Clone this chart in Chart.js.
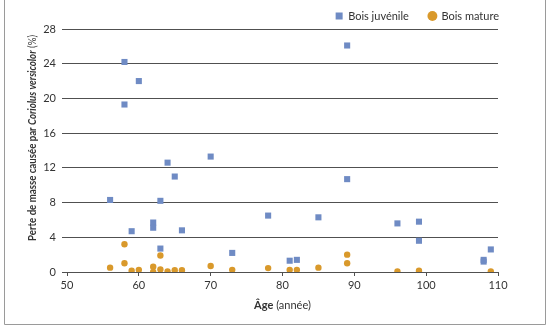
<!DOCTYPE html>
<html>
<head>
<meta charset="utf-8">
<script src="https://cdn.jsdelivr.net/npm/chart.js@4"></script>
<style>
  html, body { margin: 0; padding: 0; background: #fff; }
  #chart { display: block; }
</style>
</head>
<body>
<canvas id="chart" width="549" height="326"></canvas>
<script>
// values
const ageJuvenile = [56, 58, 58, 59, 60, 62, 62, 63, 63, 64, 65, 66, 70, 73, 78, 81, 82, 85, 89, 89, 96, 99, 99, 108, 108, 109];
const massJuvenile = [8.3, 24.2, 19.3, 4.7, 22.0, 5.7, 5.1, 8.2, 2.7, 12.6, 11.0, 4.8, 13.3, 2.2, 6.5, 1.3, 1.4, 6.3, 26.1, 10.7, 5.6, 5.8, 3.6, 1.4, 1.2, 2.6];

const ageMature = [56, 58, 58, 59, 60, 62, 62, 63, 63, 64, 65, 66, 70, 73, 78, 81, 82, 85, 89, 89, 96, 99, 109];
const massMature = [0.5, 3.2, 1.0, 0.15, 0.25, 0.6, 0.0, 1.9, 0.3, 0.05, 0.2, 0.2, 0.7, 0.25, 0.45, 0.25, 0.25, 0.5, 2.0, 1.0, 0.05, 0.15, 0.05];

const seriesLabels = ['Bois juvénile', 'Bois mature'];
const xTicks = [50, 60, 70, 80, 90, 100, 110];
const yTicks = [0, 4, 8, 12, 16, 20, 24, 28];

const FONT = 'Lato, "Open Sans", sans-serif';
const toPoints = (xs, ys) => xs.map((x, i) => ({ x: x, y: ys[i] }));

// draws a run of differently styled text pieces, squeezed to a given length
const drawParts = (ctx, parts, cx, cy, rotate, maxLen) => {
    let total = 0;
    parts.forEach(p => { ctx.font = p.font; p.w = ctx.measureText(p.text).width; total += p.w; });
    const k = maxLen && total > maxLen ? maxLen / total : 1;
    ctx.save();
    ctx.fillStyle = '#333';
    ctx.textBaseline = 'middle';
    ctx.translate(cx, cy);
    if (rotate) ctx.rotate(-Math.PI / 2);
    ctx.scale(k, 1);
    let pos = -total / 2;
    parts.forEach(p => { ctx.font = p.font; ctx.fillText(p.text, pos, 0); pos += p.w; });
    ctx.restore();
};

// legend line width counts a trailing gap, so nudge the box to sit flush right
const legendNudge = {
    id: 'legendNudge',
    beforeDraw(chart) {
        const lg = chart.legend;
        if (!lg || lg._nudged) return;
        lg.left += 21; lg.right += 21;
        lg.top += 2.5; lg.bottom += 2.5;
        lg._nudged = true;
    }
};

const decorations = {
    id: 'decorations',
    afterDraw(chart) {
        const ctx = chart.ctx;
        const area = chart.chartArea;

        drawParts(ctx, [
            { text: 'Perte de masse causée par ', font: 'bold 11px ' + FONT },
            { text: 'Coriolus versicolor', font: 'italic bold 11px ' + FONT },
            { text: ' (%)', font: '11px ' + FONT }
        ], 32, 138, true, 206);

        drawParts(ctx, [
            { text: 'Âge', font: 'bold 11px ' + FONT },
            { text: ' (année)', font: '11px ' + FONT }
        ], (area.left + area.right) / 2, 305, false);

        // frame round the figure
        ctx.save();
        ctx.strokeStyle = '#9a9a9a';
        ctx.lineWidth = 1;
        ctx.beginPath();
        ctx.moveTo(4.5, 0);
        ctx.lineTo(4.5, 324.5);
        ctx.lineTo(545.5, 324.5);
        ctx.lineTo(545.5, 0);
        ctx.stroke();
        ctx.restore();
    }
};

new Chart(document.getElementById('chart'), {
    type: 'scatter',
    data: {
        datasets: [
            {
                label: seriesLabels[0],
                data: toPoints(ageJuvenile, massJuvenile),
                pointStyle: 'rect',
                pointRadius: 4.3,
                pointHoverRadius: 4.3,
                backgroundColor: '#6f8bc4',
                borderColor: '#6f8bc4',
                borderWidth: 0
            },
            {
                label: seriesLabels[1],
                data: toPoints(ageMature, massMature),
                pointStyle: 'circle',
                pointRadius: 3.2,
                pointHoverRadius: 3.2,
                backgroundColor: '#d9992b',
                borderColor: '#d9992b',
                borderWidth: 0
            }
        ]
    },
    options: {
        responsive: false,
        animation: false,
        layout: { padding: { left: 0, right: 51, top: -12, bottom: 0 } },
        plugins: {
            tooltip: { enabled: false },
            legend: {
                position: 'top',
                align: 'end',
                labels: {
                    usePointStyle: true,
                    boxWidth: 7,
                    boxHeight: 7,
                    padding: 20,
                    color: '#333',
                    font: { family: FONT, size: 11 }
                }
            }
        },
        scales: {
            x: {
                type: 'linear',
                min: 50,
                max: 110,
                afterBuildTicks: scale => { scale.ticks = xTicks.map(v => ({ value: v })); },
                afterFit: scale => { scale.height = 54; },
                grid: { drawOnChartArea: false, drawTicks: true, tickLength: 4, color: '#505050' },
                border: { display: true, color: '#505050' },
                ticks: { padding: 3, color: '#333', font: { family: FONT, size: 11 } }
            },
            y: {
                type: 'linear',
                min: 0,
                max: 28,
                afterBuildTicks: scale => { scale.ticks = yTicks.map(v => ({ value: v })); },
                afterFit: scale => { scale.width = 67; },
                grid: { color: '#505050', tickLength: 5 },
                border: { display: false },
                ticks: { padding: 6, color: '#333', font: { family: FONT, size: 11 } }
            }
        }
    },
    plugins: [legendNudge, decorations]
});
</script>
</body>
</html>
